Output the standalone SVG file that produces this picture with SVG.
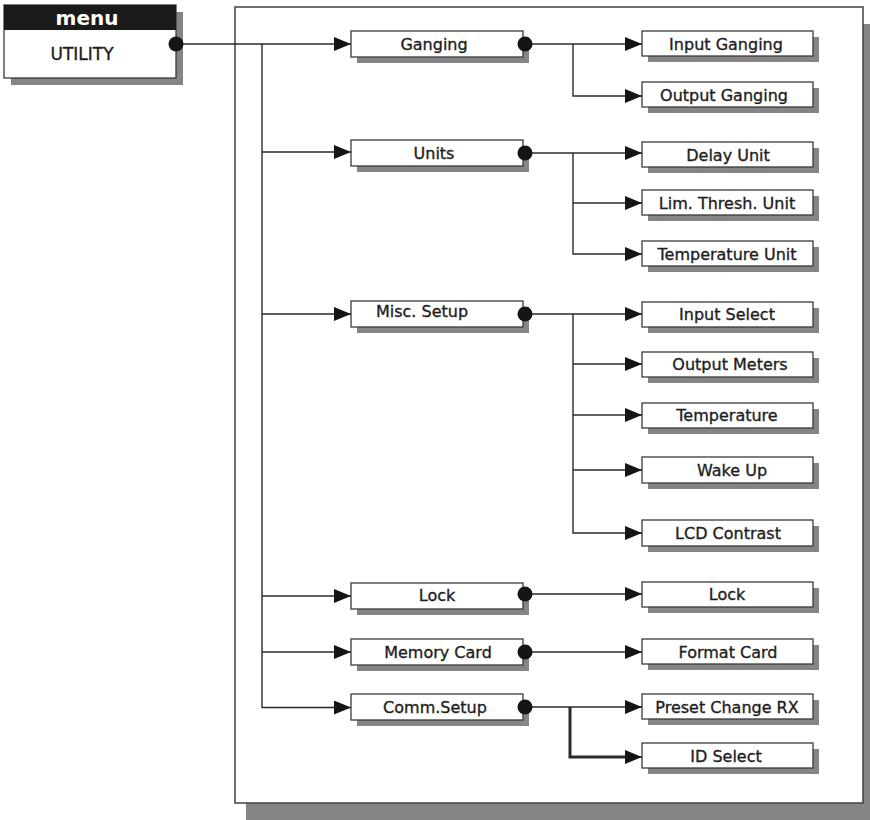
<svg xmlns="http://www.w3.org/2000/svg" width="870" height="820" viewBox="0 0 870 820">
<style>
.sh{fill:#858585}
.bx{fill:#fff;stroke:#3a3a3a;stroke-width:1.3}
.t{font-family:"DejaVu Sans","Liberation Sans",sans-serif;font-size:16px;fill:#1e1e1e;stroke:#1e1e1e;stroke-width:0.35;text-anchor:middle}
.ln{fill:none;stroke:#2a2a2a;stroke-width:1.4}
.thick{stroke-width:3}
.dot{fill:#151515}
</style>
<defs>
<marker id="ah" markerUnits="userSpaceOnUse" markerWidth="18" markerHeight="16" refX="17" refY="7" orient="auto">
<path d="M0,0 L17,7 L0,14 Z" fill="#151515"/>
</marker>
</defs>
<rect x="0" y="0" width="870" height="820" fill="#fff"/>
<g id="frame">
<rect x="246" y="24" width="624" height="796" class="sh"/>
<rect x="235" y="7" width="628" height="796" fill="#fff" stroke="#404040" stroke-width="1.5"/>
</g>
<g id="menu">
<rect x="11" y="12" width="172" height="73" class="sh"/>
<rect x="4" y="5" width="172" height="73" fill="#fff" stroke="#3a3a3a" stroke-width="1.3"/>
<rect x="4" y="5" width="172" height="25" fill="#1a1a1a"/>
<text x="87" y="25" font-family="DejaVu Sans,Liberation Sans,sans-serif" font-size="20" font-weight="bold" fill="#fff" text-anchor="middle">menu</text>
<text x="82" y="60" class="t" style="font-size:17px">UTILITY</text>
</g>
<g id="n-ganging"><rect x="357" y="37" width="172" height="26" class="sh"/><rect x="351" y="31" width="172" height="26" class="bx"/><text x="434" y="50" class="t">Ganging</text></g>
<g id="n-units"><rect x="357" y="146" width="172" height="26" class="sh"/><rect x="351" y="140" width="172" height="26" class="bx"/><text x="434" y="159" class="t">Units</text></g>
<g id="n-misc"><rect x="357" y="307" width="172" height="26" class="sh"/><rect x="351" y="301" width="172" height="26" class="bx"/><text x="422" y="317" class="t">Misc. Setup</text></g>
<g id="n-lock2"><rect x="357" y="589" width="172" height="26" class="sh"/><rect x="351" y="583" width="172" height="26" class="bx"/><text x="437" y="601" class="t">Lock</text></g>
<g id="n-memcard"><rect x="357" y="645" width="172" height="26" class="sh"/><rect x="351" y="639" width="172" height="26" class="bx"/><text x="438" y="658" class="t">Memory Card</text></g>
<g id="n-comm"><rect x="357" y="700" width="172" height="26" class="sh"/><rect x="351" y="694" width="172" height="26" class="bx"/><text x="435" y="713" class="t">Comm.Setup</text></g>
<g id="n-inganging"><rect x="648" y="37" width="171" height="25" class="sh"/><rect x="642" y="31" width="171" height="25" class="bx"/><text x="726" y="50" class="t">Input Ganging</text></g>
<g id="n-outganging"><rect x="648" y="88" width="171" height="25" class="sh"/><rect x="642" y="82" width="171" height="25" class="bx"/><text x="724" y="101" class="t">Output Ganging</text></g>
<g id="n-delay"><rect x="648" y="148" width="171" height="25" class="sh"/><rect x="642" y="142" width="171" height="25" class="bx"/><text x="728" y="161" class="t">Delay Unit</text></g>
<g id="n-lim"><rect x="648" y="196" width="171" height="25" class="sh"/><rect x="642" y="190" width="171" height="25" class="bx"/><text x="727" y="209" class="t">Lim. Thresh. Unit</text></g>
<g id="n-tempunit"><rect x="648" y="247" width="171" height="25" class="sh"/><rect x="642" y="241" width="171" height="25" class="bx"/><text x="727" y="260" class="t">Temperature Unit</text></g>
<g id="n-insel"><rect x="648" y="308" width="171" height="25" class="sh"/><rect x="642" y="302" width="171" height="25" class="bx"/><text x="727" y="320" class="t">Input Select</text></g>
<g id="n-outmeters"><rect x="648" y="358" width="171" height="25" class="sh"/><rect x="642" y="352" width="171" height="25" class="bx"/><text x="730" y="370" class="t">Output Meters</text></g>
<g id="n-temp"><rect x="648" y="409" width="171" height="25" class="sh"/><rect x="642" y="403" width="171" height="25" class="bx"/><text x="727" y="421" class="t">Temperature</text></g>
<g id="n-wake"><rect x="648" y="463" width="171" height="26" class="sh"/><rect x="642" y="457" width="171" height="26" class="bx"/><text x="732" y="476" class="t">Wake Up</text></g>
<g id="n-lcd"><rect x="648" y="526" width="171" height="26" class="sh"/><rect x="642" y="520" width="171" height="26" class="bx"/><text x="728" y="539" class="t">LCD Contrast</text></g>
<g id="n-lock3"><rect x="648" y="588" width="171" height="25" class="sh"/><rect x="642" y="582" width="171" height="25" class="bx"/><text x="727" y="600" class="t">Lock</text></g>
<g id="n-format"><rect x="648" y="645" width="171" height="25" class="sh"/><rect x="642" y="639" width="171" height="25" class="bx"/><text x="728" y="658" class="t">Format Card</text></g>
<g id="n-preset"><rect x="648" y="700" width="171" height="25" class="sh"/><rect x="642" y="694" width="171" height="25" class="bx"/><text x="727" y="713" class="t">Preset Change RX</text></g>
<g id="n-idsel"><rect x="648" y="749" width="171" height="25" class="sh"/><rect x="642" y="743" width="171" height="25" class="bx"/><text x="726" y="762" class="t">ID Select</text></g>
<g id="connectors">
<path class="ln" d="M176,44 H351" marker-end="url(#ah)"/>
<path class="ln" d="M262,44 V708"/>
<path class="ln" d="M262,152 H351" marker-end="url(#ah)"/>
<path class="ln" d="M262,314 H351" marker-end="url(#ah)"/>
<path class="ln" d="M262,596 H351" marker-end="url(#ah)"/>
<path class="ln" d="M262,652 H351" marker-end="url(#ah)"/>
<path class="ln" d="M262,707.5 H351" marker-end="url(#ah)"/>
<path class="ln" d="M523,44 H642" marker-end="url(#ah)"/>
<path class="ln" d="M573,44 V96 H642" marker-end="url(#ah)"/>
<path class="ln" d="M523,153 H642" marker-end="url(#ah)"/>
<path class="ln" d="M573,153 V254 H642" marker-end="url(#ah)"/>
<path class="ln" d="M573,203 H642" marker-end="url(#ah)"/>
<path class="ln" d="M523,314 H642" marker-end="url(#ah)"/>
<path class="ln" d="M573,314 V533 H642" marker-end="url(#ah)"/>
<path class="ln" d="M573,364 H642" marker-end="url(#ah)"/>
<path class="ln" d="M573,415 H642" marker-end="url(#ah)"/>
<path class="ln" d="M573,470 H642" marker-end="url(#ah)"/>
<path class="ln" d="M523,594 H642" marker-end="url(#ah)"/>
<path class="ln" d="M523,652 H642" marker-end="url(#ah)"/>
<path class="ln" d="M523,707 H642" marker-end="url(#ah)"/>
<path class="ln thick" d="M570,707 V757 H625"/>
<path class="ln" d="M620,757 H642" marker-end="url(#ah)"/>
<circle cx="176" cy="44" r="7.5" class="dot"/>
<circle cx="525" cy="44" r="7.5" class="dot"/>
<circle cx="525" cy="153" r="7.5" class="dot"/>
<circle cx="525" cy="314" r="7.5" class="dot"/>
<circle cx="525" cy="594" r="7.5" class="dot"/>
<circle cx="525" cy="652" r="7.5" class="dot"/>
<circle cx="525" cy="707" r="7.5" class="dot"/>
</g>
</svg>
